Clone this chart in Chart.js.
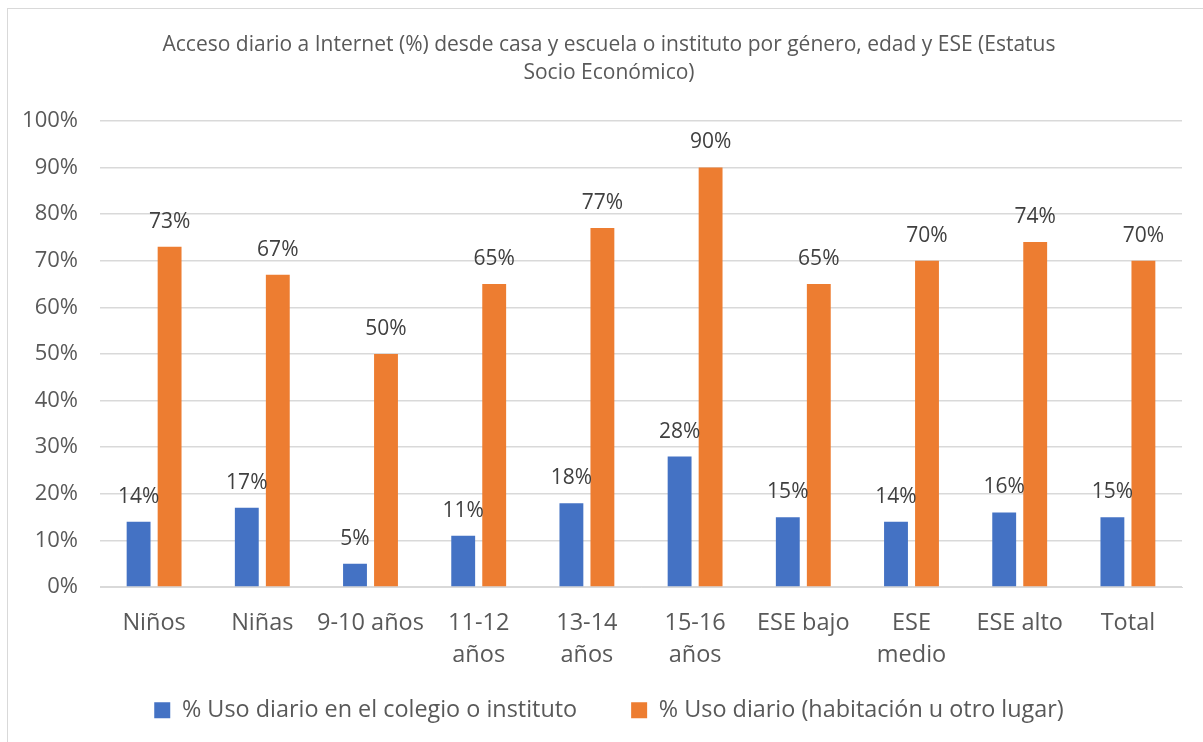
<!DOCTYPE html>
<html>
<head>
<meta charset="utf-8">
<script src="https://cdn.jsdelivr.net/npm/chart.js@4"></script>
<style>
    html, body { margin: 0; padding: 0; background: #fff; }
    #wrap { position: relative; width: 1203px; height: 742px; }
    #frame { position: absolute; left: 7px; top: 8px; right: -5px; bottom: -5px; border: 1.5px solid #d9d9d9; }
    canvas { position: absolute; left: 0; top: 0; }
</style>
</head>
<body>
<div id="wrap">
    <div id="frame"></div>
    <canvas id="barChart" width="1203" height="742"></canvas>
</div>
<script>
const categories = [
    "Niños", "Niñas", "9-10 años", ["11-12", "años"], ["13-14", "años"],
    ["15-16", "años"], "ESE bajo", ["ESE", "medio"], "ESE alto", "Total"
];
const schoolUse = [14, 17, 5, 11, 18, 28, 15, 14, 16, 15];
const otherUse = [73, 67, 50, 65, 77, 90, 65, 70, 74, 70];
const yTicks = [0, 10, 20, 30, 40, 50, 60, 70, 80, 90, 100];

const font = "'Open Sans', sans-serif";

// etiquetas de valor encima de cada barra
const barLabels = {
    id: "barLabels",
    afterDatasetsDraw(chart) {
        const ctx = chart.ctx;
        ctx.save();
        ctx.font = "21px " + font;
        ctx.fillStyle = "#404040";
        ctx.textAlign = "center";
        ctx.textBaseline = "middle";
        chart.data.datasets.forEach((ds, i) => {
            chart.getDatasetMeta(i).data.forEach((bar, j) => {
                ctx.fillText(ds.data[j] + "%", bar.x, bar.y - 25);
            });
        });
        ctx.restore();
    },
};

// los ejes se ajustan de tamaño, pero sus textos no deben recortarse
const noClip = {
    id: "noClip",
    afterLayout(chart) {
        chart.scales.y.left = 0;
        chart.scales.x.bottom = chart.height;
    },
};

new Chart(document.getElementById("barChart"), {
    type: "bar",
    data: {
        labels: categories,
        datasets: [
            {
                label: "% Uso diario en el colegio o instituto",
                data: schoolUse,
                backgroundColor: "#4472c4",
            },
            {
                label: "% Uso diario (habitación u otro lugar)",
                data: otherUse,
                backgroundColor: "#ed7d31",
            },
        ],
    },
    options: {
        responsive: false,
        animation: false,
        categoryPercentage: 0.573,
        barPercentage: 0.77,
        layout: { padding: { left: 36, right: 21, top: 0, bottom: 10 } },
        plugins: {
            title: {
                display: true,
                text: [
                    "Acceso diario a Internet (%) desde casa y escuela o instituto por género, edad y ESE (Estatus",
                    "Socio Económico)",
                ],
                color: "#595959",
                font: { family: font, size: 21, weight: "normal", lineHeight: 1.33 },
                padding: { top: 31, bottom: 34 },
            },
            legend: {
                position: "bottom",
                labels: {
                    color: "#595959",
                    font: { family: font, size: 23.4 },
                    boxWidth: 16,
                    boxHeight: 16,
                    padding: 54,
                },
            },
            tooltip: { enabled: false },
        },
        scales: {
            x: {
                grid: { display: false },
                border: { color: "#d9d9d9" },
                ticks: {
                    color: "#595959",
                    font: { family: font, size: 23.5, lineHeight: 1.36 },
                    padding: 12,
                    maxRotation: 0,
                    autoSkip: false,
                },
                afterFit: (scale) => { scale.height = 57.5; },
            },
            y: {
                min: 0,
                max: 100,
                grid: { color: "#d9d9d9", lineWidth: 1.5, drawTicks: false },
                border: { display: false },
                afterBuildTicks: (scale) => {
                    scale.ticks = yTicks.map((v) => ({ value: v }));
                },
                ticks: {
                    color: "#595959",
                    font: { family: font, size: 22 },
                    padding: 22,
                    callback: (v) => v + "%",
                },
                afterFit: (scale) => { scale.width = 64; },
            },
        },
    },
    plugins: [barLabels, noClip],
});
</script>
</body>
</html>
